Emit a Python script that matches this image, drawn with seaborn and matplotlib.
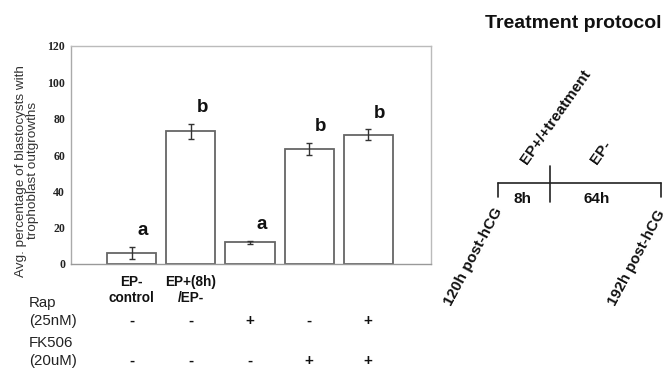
import matplotlib
matplotlib.use("Agg")
import matplotlib.pyplot as plt
import matplotlib.transforms as mtrans
import seaborn as sns
import pandas as pd

# ---- data ----
groups = ["g1", "g2", "g3", "g4", "g5"]
categories = ["EP-\ncontrol", "EP+(8h)\n/EP-", "", "", ""]
values = [6.2, 73.0, 11.9, 63.3, 71.2]
errors = [3.2, 4.2, 1.0, 3.5, 2.9]
letters = ["a", "b", "a", "b", "b"]
rap = ["-", "-", "+", "-", "+"]
fk506 = ["-", "-", "-", "+", "+"]
yticks = [0, 20, 40, 60, 80, 100, 120]
ylabel = "Avg. percentage of blastocysts with\ntrophoblast outgrowths"

sns.set_style("white")
plt.rcParams["font.family"] = ["Liberation Sans", "DejaVu Sans"]

W, H = 668, 370
fig = plt.figure(figsize=(W / 100, H / 100), dpi=100)

def fx(px):
    return px / W

def fy(py):
    return 1 - py / H

ax_l, ax_r, ax_t, ax_b = 70.7, 431, 46, 264
ax = fig.add_axes([fx(ax_l), fy(ax_b), (ax_r - ax_l) / W, (ax_b - ax_t) / H])

df = pd.DataFrame({"group": groups, "value": values})
sns.barplot(data=df, x="group", y="value", order=groups, ax=ax,
            color="white", edgecolor="#666666", linewidth=1.3,
            width=0.83, errorbar=None)
ax.errorbar(range(len(values)), values, yerr=errors, fmt="none",
            ecolor="#333333", elinewidth=1.0, capsize=2.5, capthick=1.0)

for i, (v, e, l) in enumerate(zip(values, errors, letters)):
    ax.text(i + 0.19, v + e + 9, l, ha="center", va="center",
            fontsize=13.5, fontweight="bold", color="#111111")

ax.set_xlim(-1.03, 5.06)
ax.set_ylim(0, 120)
ax.set_yticks(yticks)
ax.set_yticklabels([str(t) for t in yticks], family="Liberation Serif",
                   fontsize=8.5, fontweight="bold", color="#222222")
ax.set_xticks(range(len(groups)))
ax.set_xticklabels(categories, fontsize=9.8, fontweight="bold",
                   color="#111111", linespacing=1.15)
ax.tick_params(axis="both", length=0)
ax.tick_params(axis="y", pad=4)
ax.tick_params(axis="x", pad=8)
ax.set_xlabel("")
ax.set_ylabel(ylabel, fontsize=9.7, color="#333333", linespacing=1.05)
ax.yaxis.set_label_coords(-0.122, 0.427)
ax.yaxis.label.set_verticalalignment("center")
for s in ax.spines.values():
    s.set_color("#bbbbbb")
    s.set_linewidth(1.0)
ax.spines["bottom"].set_color("#999999")
ax.spines["left"].set_color("#aaaaaa")

# ---- treatment table under bars ----
blend = mtrans.blended_transform_factory(ax.transData, fig.transFigure)
fig.text(fx(29), fy(303), "Rap", ha="left", va="center", fontsize=10.8, color="#222222")
fig.text(fx(29), fy(321), "(25nM)", ha="left", va="center", fontsize=10.8, color="#222222")
fig.text(fx(29), fy(343), "FK506", ha="left", va="center", fontsize=10.8, color="#222222")
fig.text(fx(29), fy(361), "(20uM)", ha="left", va="center", fontsize=10.8, color="#222222")
for i, (r, f) in enumerate(zip(rap, fk506)):
    ax.text(i, fy(321), r, transform=blend, ha="center", va="center",
            fontsize=11, fontweight="bold", color="#111111")
    ax.text(i, fy(361), f, transform=blend, ha="center", va="center",
            fontsize=11, fontweight="bold", color="#111111")

# ---- treatment protocol diagram ----
ax2 = fig.add_axes([0, 0, 1, 1], facecolor="none")
ax2.set_xlim(0, W)
ax2.set_ylim(H, 0)
ax2.axis("off")
lc = "#222222"
ax2.plot([498, 661], [183, 183], color=lc, lw=1.2)
ax2.plot([498, 498], [183, 197], color=lc, lw=1.2)
ax2.plot([661, 661], [183, 197], color=lc, lw=1.2)
ax2.plot([550, 550], [166, 202], color=lc, lw=1.2)
ax2.text(573, 23, "Treatment protocol", ha="center", va="center",
         fontsize=14, fontweight="bold", color="#111111")
ax2.text(522, 199, "8h", ha="center", va="center", fontsize=11,
         fontweight="bold", color="#111111")
ax2.text(597, 199, "64h", ha="center", va="center", fontsize=11,
         fontweight="bold", color="#111111")
ax2.text(556, 117, "EP+/+treatment", ha="center", va="center", rotation=55,
         fontsize=11, fontweight="bold", color="#111111")
ax2.text(601, 152, "EP-", ha="center", va="center", rotation=55,
         fontsize=11, fontweight="bold", color="#111111")
ax2.text(473, 257, "120h post-hCG", ha="center", va="center", rotation=62,
         fontsize=11, fontweight="bold", color="#111111")
ax2.text(637, 258, "192h post-hCG", ha="center", va="center", rotation=62,
         fontsize=10.8, fontweight="bold", color="#111111")

fig.savefig("out.png", dpi=100)
